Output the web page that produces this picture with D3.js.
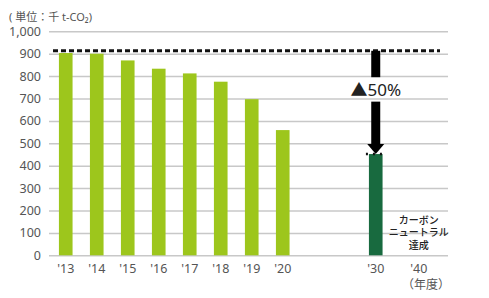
<!DOCTYPE html>
<html>
<head>
<meta charset="utf-8">
<script src="https://cdn.jsdelivr.net/npm/d3@7"></script>
<style>
  body { margin: 0; background: #fff; }
  text { font-family: "Noto Sans", "Noto Sans CJK JP", sans-serif; }
</style>
</head>
<body>
<div id="chart"></div>
<script>
// data
const years = ["'13", "'14", "'15", "'16", "'17", "'18", "'19", "'20", "g1", "g2", "'30", "'40"];
const actual = [903, 900, 870, 833, 812, 775, 697, 559];
const actualYears = ["'13", "'14", "'15", "'16", "'17", "'18", "'19", "'20"];
const target = [{ year: "'30", value: 452 }];
const baseLevel = 913;          // dashed reference line (2013 level)
const arrowGap = [795, 686];    // where the arrow is cut for the label
const yTicks = [0, 100, 200, 300, 400, 500, 600, 700, 800, 900, 1000];
const neutralText = ["カーボン", "ニュートラル", "達成"];

const width = 489, height = 298;
const plotLeft = 49, plotRight = 448, plotTop = 31.3, plotBottom = 255.3;

const svg = d3.select("#chart")
    .append("svg")
    .attr("width", width)
    .attr("height", height);

// scales
const step = 31;
const xScale = d3.scaleBand()
    .domain(years)
    .range([plotLeft, plotLeft + step * (years.length - 0.56 + 0.64)])
    .paddingInner(0.56)
    .paddingOuter(0.32);

const yScale = d3.scaleLinear()
    .domain([0, 1000])
    .range([plotBottom, plotTop]);

// grid + y axis
const yAxis = svg.append("g")
    .attr("transform", `translate(${plotLeft},0)`)
    .call(d3.axisLeft(yScale)
        .tickValues(yTicks)
        .tickSize(-(plotRight - plotLeft))
        .tickPadding(8)
        .tickFormat(d3.format(",")));
yAxis.select(".domain").remove();
yAxis.selectAll(".tick line")
    .attr("stroke", "#c8c8c8")
    .attr("stroke-width", 1.5);
yAxis.selectAll(".tick text")
    .attr("fill", "#555")
    .attr("font-size", 12.5)
    .attr("font-family", "Noto Sans");

// unit label
svg.append("text")
    .attr("x", 9)
    .attr("y", 21)
    .attr("fill", "#555")
    .attr("font-size", 11)
    .text("( 単位：千 t-CO₂)");

// x axis labels
const xAxis = svg.append("g")
    .attr("transform", `translate(0,${plotBottom})`)
    .call(d3.axisBottom(xScale)
        .tickSize(0)
        .tickPadding(9)
        .tickFormat(d => d.startsWith("g") ? "" : d));
xAxis.select(".domain").remove();
xAxis.selectAll(".tick text")
    .attr("fill", "#555")
    .attr("font-size", 12.5)
    .attr("font-family", "Noto Sans");
// '40 label sits a bit further right in the original
xAxis.selectAll(".tick")
    .filter(d => d === "'40")
    .select("text")
    .attr("dx", 12);

svg.append("text")
    .attr("x", 450)
    .attr("y", 289)
    .attr("text-anchor", "end")
    .attr("fill", "#555")
    .attr("font-size", 12)
    .text("（年度）");

// bars
svg.selectAll(".bar")
    .data(actual)
    .enter()
    .append("rect")
    .attr("class", "bar")
    .attr("x", (d, i) => xScale(actualYears[i]))
    .attr("y", d => yScale(d))
    .attr("width", xScale.bandwidth())
    .attr("height", d => yScale(0) - yScale(d))
    .attr("fill", "#9dc61c");

svg.selectAll(".target")
    .data(target)
    .enter()
    .append("rect")
    .attr("class", "target")
    .attr("x", d => xScale(d.year))
    .attr("y", d => yScale(d.value))
    .attr("width", xScale.bandwidth())
    .attr("height", d => yScale(0) - yScale(d.value))
    .attr("fill", "#186a3f");

// dashed base line
svg.append("line")
    .attr("x1", plotLeft + 4)
    .attr("x2", plotRight - 8)
    .attr("y1", yScale(baseLevel))
    .attr("y2", yScale(baseLevel))
    .attr("stroke", "#111")
    .attr("stroke-width", 3)
    .attr("stroke-dasharray", "5,3");

// short dashed line on top of 2030 bar
const tx = xScale("'30");
const bw = xScale.bandwidth();
svg.append("line")
    .attr("x1", tx - 3)
    .attr("x2", tx + bw + 3)
    .attr("y1", yScale(target[0].value))
    .attr("y2", yScale(target[0].value))
    .attr("stroke", "#111")
    .attr("stroke-width", 2.5)
    .attr("stroke-dasharray", "2,5");

// reduction arrow
const cx = tx + bw / 2;
svg.append("rect")
    .attr("x", cx - 4.5)
    .attr("y", yScale(baseLevel))
    .attr("width", 9)
    .attr("height", yScale(arrowGap[0]) - yScale(baseLevel))
    .attr("fill", "#000");

const headTop = yScale(target[0].value) - 10;
svg.append("rect")
    .attr("x", cx - 4.5)
    .attr("y", yScale(arrowGap[1]))
    .attr("width", 9)
    .attr("height", headTop - yScale(arrowGap[1]))
    .attr("fill", "#000");

svg.append("path")
    .attr("d", `M${cx - 8.5},${headTop} L${cx + 8.5},${headTop} L${cx},${yScale(target[0].value)} Z`)
    .attr("fill", "#000");

svg.append("text")
    .attr("x", cx)
    .attr("y", yScale((arrowGap[0] + arrowGap[1]) / 2) + 6.5)
    .attr("text-anchor", "middle")
    .attr("fill", "#222")
    .attr("font-size", 17)
    .text("▲50%");

// carbon neutral note
const nx = xScale("'40") + bw / 2 + 12;
svg.append("g")
    .selectAll("text")
    .data(neutralText)
    .enter()
    .append("text")
    .attr("x", nx)
    .attr("y", (d, i) => yScale(150) + i * 12.5 + 2)
    .attr("text-anchor", "middle")
    .attr("fill", "#222")
    .attr("font-size", 10)
    .attr("font-weight", 500)
    .attr("font-family", "Noto Sans CJK JP")
    .text(d => d);
</script>
</body>
</html>
